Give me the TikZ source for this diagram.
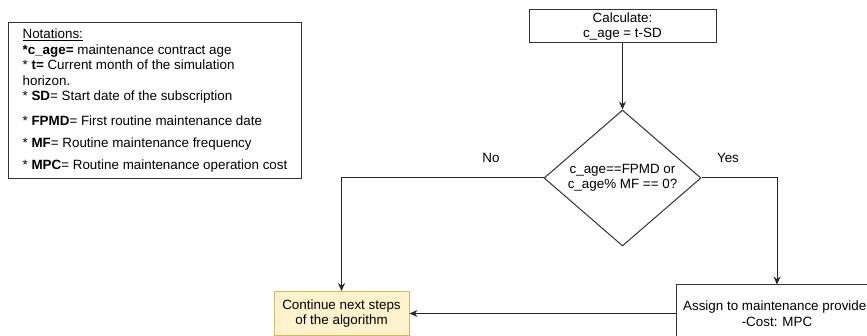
\documentclass[tikz,border=0pt]{standalone}
\usepackage{fontspec}
\setmainfont{Liberation Sans}
\usetikzlibrary{shapes.geometric,arrows.meta,positioning}
\definecolor{contfill}{HTML}{FFF2CC}
\definecolor{contdraw}{HTML}{D6B656}
\tikzset{block/.style={draw=black!80,line width=1pt,rectangle,align=center,inner sep=2pt}}

\begin{document}
\begin{tikzpicture}[
            x=1pt,y=-1pt,
            font=\fontsize{13.4}{15.5}\selectfont,
            arrow/.style={line width=1pt,-{Stealth[length=8pt,width=7pt]},black!85},
            decision/.style={diamond,draw=black!80,line width=1pt,aspect=1.15,
                minimum width=157pt,minimum height=136pt,inner sep=0pt,align=center}
        ]
            \clip (0,0) rectangle (867,336);
            % notation legend
            \node [block,anchor=north west,align=left,minimum width=293pt,minimum height=156pt] (notes) at (8,22) {
                \underline{Notations:}\\
                \textbf{*c\_age=} maintenance contract age\\
                * \textbf{t=} Current month of the simulation\\
                horizon.\\
                * \textbf{SD}= Start date of the subscription\\[9pt]
                * \textbf{FPMD}= First routine maintenance date\\[6.5pt]
                * \textbf{MF}= Routine maintenance frequency\\[6.5pt]
                * \textbf{MPC}= Routine maintenance operation cost};
            % flow
            \node [block,minimum width=187pt,minimum height=33pt] (calc) at (622.5,26.5) {Calculate:\\c\_age = t-SD};
            \node [decision] (cond) at (622.5,178) {c\_age==FPMD or\\c\_age\% MF == 0?};
            \node [block,fill=contfill,draw=contdraw,minimum width=135pt,minimum height=44pt] (cont) at (341.5,313.5) {Continue next steps\\of the algorithm};
            \node [block,minimum width=202pt,minimum height=57pt] (assign) at (777,313.5) {Assign to maintenance provider\\-Cost: MPC};
            \node (no) at (491,158) {No};
            \node (yes) at (728,158) {Yes};
            \draw [arrow] (calc) -- (cond);
            \draw [arrow] (cond.west) -| (cont.north);
            \draw [arrow] (cond.east) -| (assign.north);
            \draw [arrow] (assign.west) -- (cont.east);
        \end{tikzpicture}
\end{document}
